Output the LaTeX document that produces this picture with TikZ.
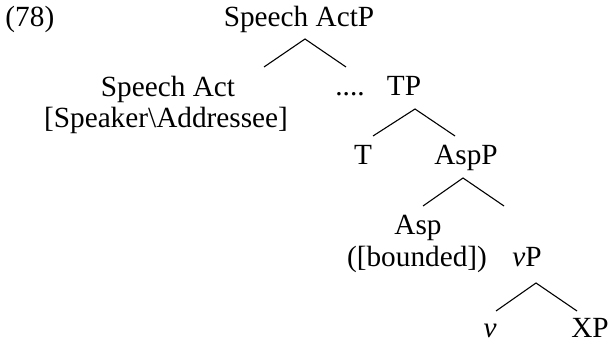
\documentclass[tikz,border=0pt]{standalone}
\usepackage{fontspec}
\setmainfont{Liberation Serif}
\begin{document}
\begin{tikzpicture}[x=0.41pt,y=-0.41pt,
  lbl/.style={anchor=base,inner sep=0pt,font=\fontsize{12}{14}\selectfont},
  branch/.style={line width=0.45pt,line join=miter}]
\useasboundingbox (0,0) rectangle (608,344);
% example number
\node[lbl,anchor=base west] (num) at (5,27) {(78)};
% labels
\node[lbl] (sap)   at (299,27)  {Speech ActP};
\node[lbl] (sa)    at (168,97)  {Speech Act};
\node[lbl] (feat)  at (166,128) {[Speaker\textbackslash Addressee]};
\node[lbl] (dots)  at (350,96)  {....};
\node[lbl] (tp)    at (404,96)  {TP};
\node[lbl] (t)     at (363,165) {T};
\node[lbl] (aspp)  at (466,165) {AspP};
\node[lbl] (asp)   at (418,235) {Asp};
\node[lbl] (bnd)   at (417,267) {([bounded])};
\node[lbl] (vp)    at (527,267) {\textit{v}P};
\node[lbl] (v)     at (490,338) {\textit{v}};
\node[lbl] (xp)    at (590,338) {XP};
% branch points
\coordinate (sapTop) at (305,39);  \coordinate (sapL) at (264,67); \coordinate (sapR) at (346,67);
\coordinate (tpTop)  at (415,109); \coordinate (tpL)  at (373,136); \coordinate (tpR)  at (455,136);
\coordinate (aspTop) at (463,178); \coordinate (aspL) at (423,206); \coordinate (aspR) at (504,206);
\coordinate (vpTop)  at (536,283); \coordinate (vpL)  at (496,311); \coordinate (vpR)  at (577,311);
% branches
\draw[branch] (sapL) -- (sapTop) -- (sapR);
\draw[branch] (tpL) -- (tpTop) -- (tpR);
\draw[branch] (aspL) -- (aspTop) -- (aspR);
\draw[branch] (vpL) -- (vpTop) -- (vpR);
\end{tikzpicture}
\end{document}
